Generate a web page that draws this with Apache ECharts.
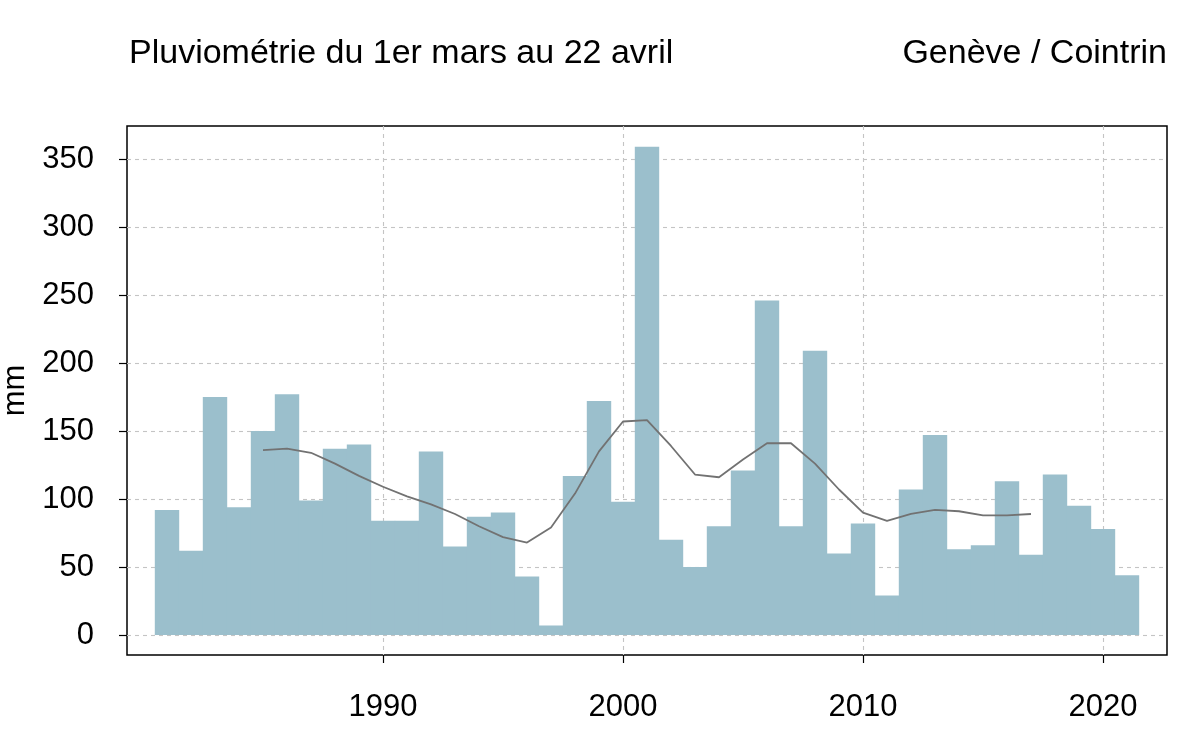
<!DOCTYPE html>
<html>
<head>
<meta charset="utf-8">
<script src="https://cdn.jsdelivr.net/npm/echarts@6/dist/echarts.min.js"></script>
<style>
  html, body { margin: 0; padding: 0; background: #fff; }
  #main { width: 1200px; height: 750px; }
</style>
</head>
<body>
<div id="main"></div>
<script>
  // annees et pluie du 1er mars au 22 avril (mm)
  var years = [1981, 1982, 1983, 1984, 1985, 1986, 1987, 1988, 1989, 1990,
               1991, 1992, 1993, 1994, 1995, 1996, 1997, 1998, 1999, 2000,
               2001, 2002, 2003, 2004, 2005, 2006, 2007, 2008, 2009, 2010,
               2011, 2012, 2013, 2014, 2015, 2016, 2017, 2018, 2019, 2020, 2021];
  var rain = [92, 62, 175, 94, 150, 177, 99, 137, 140, 84,
              84, 135, 65, 87, 90, 43, 7, 117, 172, 98,
              359, 70, 50, 80, 121, 246, 80, 209, 60, 82,
              29, 107, 147, 63, 66, 113, 59, 118, 95, 78, 44];
  // moyenne glissante (courbe grise)
  var smoothYears = [1985, 1986, 1987, 1988, 1989, 1990, 1991, 1992, 1993, 1994,
                     1995, 1996, 1997, 1998, 1999, 2000, 2001, 2002, 2003, 2004,
                     2005, 2006, 2007, 2008, 2009, 2010, 2011, 2012, 2013, 2014,
                     2015, 2016, 2017];
  var smoothRain = [136, 137, 134, 126, 117, 109, 102, 96, 89, 80,
                    72, 68, 79, 104, 135, 157, 158, 139, 118, 116,
                    129, 141, 141, 126, 107, 90, 84, 89, 92, 91,
                    88, 88, 89];
  var xTicks = [1990, 2000, 2010, 2020];
  var yTicks = [0, 50, 100, 150, 200, 250, 300, 350];

  var font = 'Liberation Sans, Arial, sans-serif';
  var chart = echarts.init(document.getElementById('main'));
  chart.setOption({
    animation: false,
    backgroundColor: '#fff',
    title: [{
      text: 'Pluviométrie du 1er mars au 22 avril',
      left: 124, top: 32,
      textStyle: { fontFamily: font, fontSize: 34, fontWeight: 'normal', color: '#000' }
    }, {
      text: 'Genève / Cointrin',
      right: 28, top: 32,
      textStyle: { fontFamily: font, fontSize: 34, fontWeight: 'normal', color: '#000' }
    }],
    grid: {
      left: 127, right: 33, top: 126, bottom: 95,
      containLabel: false, outerBoundsMode: 'none',
      show: true, borderColor: '#000', borderWidth: 1.5
    },
    xAxis: {
      type: 'value',
      min: 1979.333, max: 2022.667,
      axisLine: { show: false, onZero: false },
      axisTick: { show: true, length: 8, customValues: xTicks, lineStyle: { color: '#000', width: 1.2 } },
      axisLabel: {
        customValues: xTicks, margin: 37,
        formatter: function (v) { return String(v); },
        fontFamily: font, fontSize: 31, color: '#000'
      },
      splitLine: { show: true, lineStyle: { color: '#c4c4c4', type: [4, 4], width: 1.1 } }
    },
    yAxis: {
      type: 'value',
      min: -14.7, max: 374.3,
      name: 'mm', nameLocation: 'middle', nameGap: 87, nameRotate: 90,
      nameTextStyle: { fontFamily: font, fontSize: 31, color: '#000' },
      axisLine: { show: false },
      axisTick: { show: true, length: 8, customValues: yTicks, lineStyle: { color: '#000', width: 1.2 } },
      axisLabel: {
        customValues: yTicks, margin: 33,
        formatter: function (v) { return String(v); },
        fontFamily: font, fontSize: 31, color: '#000'
      },
      splitLine: { show: true, lineStyle: { color: '#c4c4c4', type: [4, 4], width: 1.1 } }
    },
    series: [{
      type: 'bar',
      data: years.map(function (y, i) { return [y, rain[i]]; }),
      barWidth: 24.4,
      itemStyle: { color: '#9bbfcc' },
      z: 2
    }, {
      type: 'line',
      data: smoothYears.map(function (y, i) { return [y, smoothRain[i]]; }),
      showSymbol: false,
      symbol: 'none',
      lineStyle: { color: '#727272', width: 1.8 },
      z: 3
    }]
  });
</script>
</body>
</html>
